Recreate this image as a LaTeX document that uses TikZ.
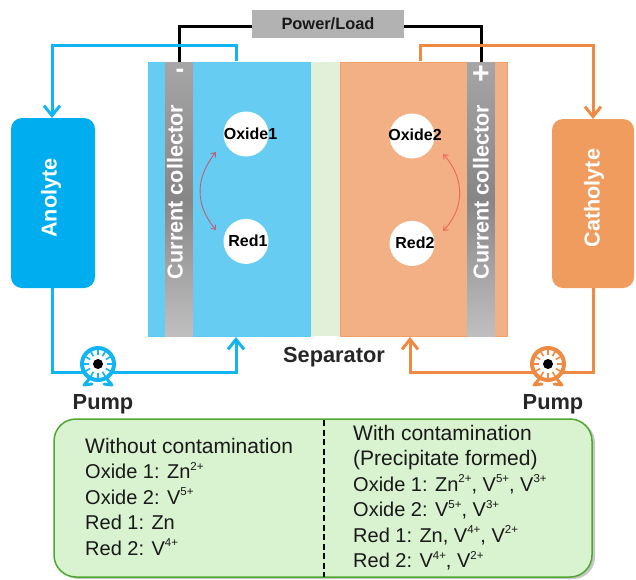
\documentclass[tikz,border=0pt]{standalone}
\usepackage{fontspec}
\setmainfont{Liberation Sans}
\usetikzlibrary{arrows.meta, positioning, shadows}
\definecolor{pipeblue}{HTML}{12B4F4}
\definecolor{pipeorange}{HTML}{EF8A43}
\definecolor{cellblue}{HTML}{66CCF2}
\definecolor{cellorange}{HTML}{F2B084}
\definecolor{tankblue}{HTML}{00ADEF}
\definecolor{tankorange}{HTML}{EF9C5E}
\definecolor{sepgreen}{HTML}{E2EFD9}
\definecolor{boxgreen}{HTML}{D9F2D0}
\definecolor{boxline}{HTML}{4EA72E}
\definecolor{redoxa}{HTML}{BC5E78}
\definecolor{redoxb}{HTML}{F0665C}
\newcommand{\chg}[1]{\raisebox{0.42em}{\fontsize{11.5}{12}\selectfont #1}}
\newcommand{\headtxt}[1]{{\fontsize{21}{25.4}\selectfont #1}}
\newcommand{\pumpicon}[2]{
    \draw[#2, line width=3pt, line cap=round] (#1.center) ++(-8,14) -- ++(-6,7) ++(0,0) -- ++(8,-1);
    \draw[#2, line width=3pt, line cap=round] (#1.center) ++(8,14) -- ++(6,7) ++(0,0) -- ++(-8,-1);
    \node[pumpbody, draw=#2] at (#1.center) {};
    \foreach \ang in {0,30,...,330}
        \draw[#2, line width=1.6pt] (#1.center) ++(\ang:9) -- ++(\ang:6);
    \fill[black] (#1.center) circle (5);
}
\begin{document}
\begin{tikzpicture}[x=1pt, y=-1pt,
    tank/.style={rectangle, rounded corners=11pt, minimum width=#1},
    collector/.style={rectangle, minimum width=27.5pt, minimum height=274pt, top color=gray!70, bottom color=gray!50, middle color=gray!95!white, inner sep=0pt},
    species/.style={circle, fill=white, minimum size=45pt, inner sep=0pt},
    spclabel/.style={text=black, font=\fontsize{16}{18}\selectfont\bfseries},
    plabel/.style={font=\fontsize{21.8}{24}\selectfont\bfseries, text=black!85},
    vlabel/.style={rotate=90, text=white, font=\fontsize{21.6}{24}\selectfont\bfseries},
    pumpbody/.style={circle, fill=white, line width=4pt, minimum size=32pt, inner sep=0pt},
    pumppt/.style={circle, minimum size=36pt, inner sep=0pt},
    pipea/.style={pipeblue, line width=3pt},
    pipeb/.style={pipeorange, line width=3pt},
    wire/.style={black, line width=3pt},
    pipetip/.style={-{Straight Barb[length=10pt,width=16pt]}},
    redox/.style={{Straight Barb[length=4pt,width=6pt]}-{Straight Barb[length=4pt,width=6pt]}, line width=0.9pt},
    listtext/.style={align=left, anchor=north west, inner sep=0pt, text=black!90, font=\fontsize{20}{25.4}\selectfont}]
    \useasboundingbox (0,0) rectangle (636,579);

    % cell body
    \node[rectangle, fill=sepgreen, minimum width=30pt, minimum height=274pt, inner sep=0pt] (sep) at (325,199) {};
    \node[rectangle, fill=cellblue, draw=pipeblue!70, minimum width=162pt, minimum height=274pt, inner sep=0pt] (cella) at (229,199) {};
    \node[rectangle, fill=cellorange, draw=pipeorange!80, minimum width=167pt, minimum height=274pt, inner sep=0pt] (cellb) at (423.5,199) {};
    \node[collector] (cca) at (179,199) {};
    \node[collector] (ccb) at (481,199) {};
    \node[vlabel] (ccatxt) at (175,192) {Current collector};
    \node[vlabel] (ccbtxt) at (481,192) {Current collector};
    \node[text=white, font=\fontsize{26}{26}\selectfont\bfseries] (minus) at (180,73) {-};
    \node[text=white, font=\fontsize{30}{30}\selectfont\bfseries] (plus) at (481,75) {+};

    % tanks
    \node[tank=84pt, minimum height=170pt, fill=tankblue] (anolyte) at (53,203) {};
    \node[tank=82pt, minimum height=169pt, fill=tankorange] (catholyte) at (593,203.5) {};
    \node[vlabel] (anotxt) at (51,198) {Anolyte};
    \node[vlabel] (cattxt) at (594,198) {Catholyte};

    % load
    \node[rectangle, fill=gray!60, minimum width=152pt, minimum height=28pt, inner sep=0pt, text=black!90, font=\fontsize{16.4}{18}\selectfont\bfseries] (load) at (328,24) {Power/Load};

    % redox couples
    \node[species] (ox1) at (246,134) {};
    \node[species] (red1) [below = 62pt of ox1] {};
    \node[species] (ox2) at (412,136) {};
    \node[species] (red2) [below = 62pt of ox2] {};
    \node[spclabel] (ox1txt) at (250.5,134) {Oxide1};
    \node[spclabel] (red1txt) at (248,241) {Red1};
    \node[spclabel] (ox2txt) at (415,135) {Oxide2};
    \node[spclabel] (red2txt) at (415,243) {Red2};
    \path[redox, draw=redoxa] (216,152) .. controls (195,178) and (195,205) .. (216,230);
    \path[redox, draw=redoxb] (443,154) .. controls (465,178) and (465,208) .. (443,231);

    % pumps
    \node[pumppt] (pump1) at (98,364) {};
    \node[pumppt] (pump2) at (548,364) {};
    \node[plabel] (pumptxt1) at (103,404.5) {Pump};
    \node[plabel] (pumptxt2) at (553,404.5) {Pump};
    \node[plabel] (septxt) at (334,357) {Separator};

    % wires and pipes
    \coordinate (wa) at (179,62);
    \coordinate (wb) at (481,62);
    \coordinate (pa) at (236,61);
    \coordinate (pb) at (420,61);
    \coordinate (qa) at (236,337);
    \coordinate (qb) at (410,337);
    \coordinate (la) at (98,372);
    \coordinate (lb) at (548,372);
    \draw[wire] (load.west |- 0,26) -| (wa);
    \draw[wire] (load.east |- 0,26) -| (wb);
    \draw[pipea, pipetip] (pa) |- (52,45) -- (52,118);
    \draw[pipeb, pipetip] (pb) |- (593,45) -- (593,119);
    \draw[pipea] (52,288) |- (la);
    \draw[pipea, pipetip] (la) -| (qa);
    \draw[pipeb] (593,288) |- (lb);
    \draw[pipeb, pipetip] (lb) -| (qb);
    \pumpicon{pump1}{pipeblue}
    \pumpicon{pump2}{pipeorange}

    % summary box
    \node[rectangle, rounded corners=22pt, fill=boxgreen, draw=boxline, line width=1.5pt, minimum width=538pt, minimum height=158pt, inner sep=0pt, drop shadow={shadow xshift=3pt, shadow yshift=-2pt, opacity=0.45}] (box) at (323,498) {};
    \coordinate (dtop) at (324,420);
    \coordinate (dbot) at (324,577);
    \draw[black, line width=2.5pt, dash pattern=on 6pt off 3.5pt] (dtop) -- (dbot);
    \node[listtext] (listl) at (85,438) {\headtxt{Without contamination}\\Oxide 1: Zn\chg{2+}\\Oxide 2: V\chg{5+}\\Red 1: Zn\\Red 2: V\chg{4+}};
    \node[listtext] (listr) at (353,425) {\headtxt{With contamination}\\\headtxt{(Precipitate formed)}\\Oxide 1: Zn\chg{2+}, V\chg{5+}, V\chg{3+}\\Oxide 2: V\chg{5+}, V\chg{3+}\\Red 1: Zn, V\chg{4+}, V\chg{2+}\\Red 2: V\chg{4+}, V\chg{2+}};
\end{tikzpicture}
\end{document}
